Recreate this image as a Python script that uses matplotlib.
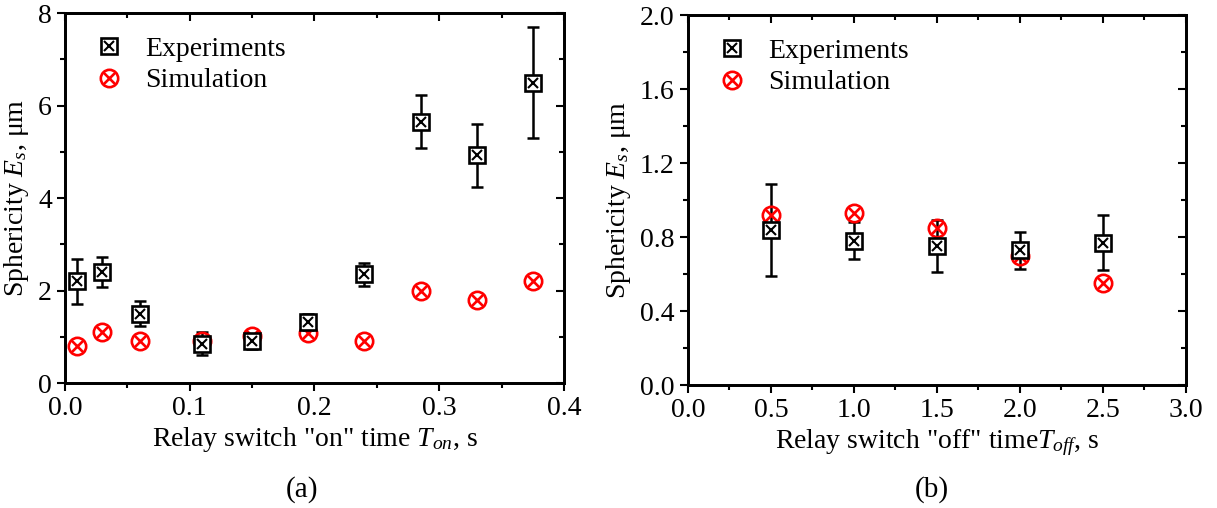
import numpy as np
import matplotlib
matplotlib.use('Agg')
import matplotlib.pyplot as plt
from matplotlib.ticker import MultipleLocator, FormatStrFormatter

plt.rcParams['font.family'] = ['Liberation Serif', 'DejaVu Serif']
plt.rcParams['mathtext.fontset'] = 'custom'
plt.rcParams['mathtext.rm'] = 'Liberation Serif'
plt.rcParams['mathtext.it'] = 'Liberation Serif:italic'

# (a) relay "on" time
t_on = [0.01, 0.03, 0.06, 0.11, 0.15, 0.195, 0.24, 0.285, 0.33, 0.375]
exp_on = [2.2, 2.4, 1.5, 0.85, 0.9, 1.32, 2.35, 5.65, 4.93, 6.5]
err_on = [0.48, 0.32, 0.27, 0.25, 0.17, 0.17, 0.25, 0.57, 0.68, 1.2]
sim_on = [0.8, 1.1, 0.9, 0.9, 1.02, 1.08, 0.9, 2.0, 1.8, 2.2]

# (b) relay "off" time
t_off = [0.5, 1.0, 1.5, 2.0, 2.5]
exp_off = [0.84, 0.78, 0.75, 0.73, 0.77]
err_off = [0.25, 0.10, 0.14, 0.10, 0.15]
sim_off = [0.92, 0.93, 0.85, 0.70, 0.55]

fig = plt.figure(figsize=(12.17, 5.08), dpi=100)
ax1 = fig.add_axes([0.0534, 0.246, 0.410, 0.728])
ax2 = fig.add_axes([0.5653, 0.242, 0.409, 0.728])

FS = 20


def draw(ax, x, ye, err, ys):
    ax.errorbar(x, ye, yerr=err, fmt='none', ecolor='black', elinewidth=1.8,
                capsize=4, capthick=1.8, zorder=2)
    # simulation: red circle with a cross
    ax.plot(x, ys, 'o', ms=12.5, mfc='none', mec='red', mew=1.9, zorder=3)
    ax.plot(x, ys, 'x', ms=8.5, mec='red', mew=1.9, zorder=3)
    # experiments: black square with a cross
    ax.plot(x, ye, 's', ms=11.5, mfc='white', mec='black', mew=1.9, zorder=4)
    ax.plot(x, ye, 'x', ms=7.5, mec='black', mew=1.5, zorder=5)

    h_exp = (plt.Line2D([], [], ls='none', marker='s', ms=11.5, mfc='white', mec='black', mew=1.9),
             plt.Line2D([], [], ls='none', marker='x', ms=7.5, mec='black', mew=1.5))
    h_sim = (plt.Line2D([], [], ls='none', marker='o', ms=12.5, mfc='none', mec='red', mew=1.9),
             plt.Line2D([], [], ls='none', marker='x', ms=8.5, mec='red', mew=1.9))
    ax.legend([h_exp, h_sim], ['Experiments', 'Simulation'], loc='upper left',
              frameon=False, fontsize=FS, handletextpad=0.6, labelspacing=0.22,
              handlelength=1.4, bbox_to_anchor=(0.0, 1.005))

    for s in ax.spines.values():
        s.set_linewidth(1.8)
    ax.tick_params(axis='both', which='both', labelsize=FS, width=1.5,
                   direction='out', top=False, right=False)
    ax.tick_params(which='major', length=6)
    ax.tick_params(which='minor', length=3.5)


def mirror_ticks(ax):
    # top/right ticks point inward, no labels
    tx = ax.twiny()
    tx.set_xlim(ax.get_xlim())
    tx.xaxis.set_major_locator(ax.xaxis.get_major_locator())
    tx.xaxis.set_minor_locator(ax.xaxis.get_minor_locator())
    tx.tick_params(which='both', direction='in', labeltop=False, width=1.5)
    tx.tick_params(which='major', length=6)
    tx.tick_params(which='minor', length=3.5)
    ty = ax.twinx()
    ty.set_ylim(ax.get_ylim())
    ty.yaxis.set_major_locator(ax.yaxis.get_major_locator())
    ty.yaxis.set_minor_locator(ax.yaxis.get_minor_locator())
    ty.tick_params(which='both', direction='in', labelright=False, width=1.5)
    ty.tick_params(which='major', length=6)
    ty.tick_params(which='minor', length=3.5)
    for t in (tx, ty):
        for s in t.spines.values():
            s.set_linewidth(1.8)


draw(ax1, t_on, exp_on, err_on, sim_on)
ax1.set_xlim(0, 0.4)
ax1.set_ylim(0, 8)
ax1.xaxis.set_major_locator(MultipleLocator(0.1))
ax1.xaxis.set_minor_locator(MultipleLocator(0.05))
ax1.yaxis.set_major_locator(MultipleLocator(2))
ax1.yaxis.set_minor_locator(MultipleLocator(1))
ax1.xaxis.set_major_formatter(FormatStrFormatter('%.1f'))
ax1.set_xlabel('Relay switch "on" time $T_{on}$, s', fontsize=FS, labelpad=3)
ax1.set_ylabel('Sphericity $E_{s}$, μm', fontsize=FS, labelpad=5)
mirror_ticks(ax1)

draw(ax2, t_off, exp_off, err_off, sim_off)
ax2.set_xlim(0, 3.0)
ax2.set_ylim(0, 2.0)
ax2.xaxis.set_major_locator(MultipleLocator(0.5))
ax2.xaxis.set_minor_locator(MultipleLocator(0.25))
ax2.yaxis.set_major_locator(MultipleLocator(0.4))
ax2.yaxis.set_minor_locator(MultipleLocator(0.2))
ax2.xaxis.set_major_formatter(FormatStrFormatter('%.1f'))
ax2.yaxis.set_major_formatter(FormatStrFormatter('%.1f'))
ax2.set_xlabel('Relay switch "off" time$T_{off}$, s', fontsize=FS, labelpad=3)
ax2.set_ylabel('Sphericity $E_{s}$, μm', fontsize=FS, labelpad=5)
mirror_ticks(ax2)

fig.text(302 / 1217, 1 - 490 / 508, '(a)', fontsize=FS + 1, ha='center', va='center')
fig.text(932 / 1217, 1 - 490 / 508, '(b)', fontsize=FS + 1, ha='center', va='center')

fig.savefig('out.png', dpi=100, facecolor='white')
